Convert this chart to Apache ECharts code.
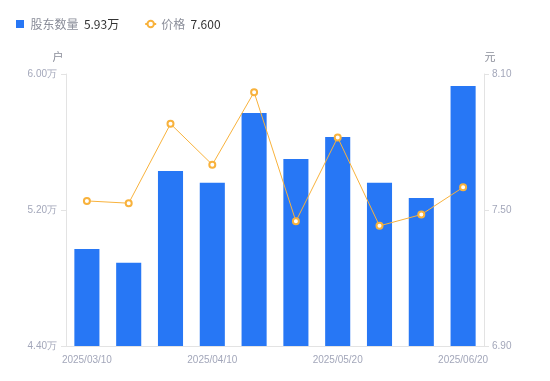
<!DOCTYPE html>
<html>
<head>
<meta charset="utf-8">
<script src="https://cdn.jsdelivr.net/npm/echarts@6/dist/echarts.min.js"></script>
<style>
  html, body { margin: 0; padding: 0; background: #fff; }
  #main { width: 550px; height: 381px; }
</style>
</head>
<body>
<div id="main"></div>
<script>
var dates = ['2025/03/10', '2025/03/20', '2025/03/31', '2025/04/10', '2025/04/18',
             '2025/04/30', '2025/05/20', '2025/05/30', '2025/06/10', '2025/06/20'];
// 股东数量, 单位: 万户
var holders = [4.97, 4.89, 5.43, 5.36, 5.77, 5.50, 5.63, 5.36, 5.27, 5.93];
// 价格, 单位: 元
var prices = [7.54, 7.53, 7.88, 7.70, 8.02, 7.45, 7.82, 7.43, 7.48, 7.60];

var leftTicks = { min: 4.4, max: 6.0, interval: 0.8 };
var rightTicks = { min: 6.9, max: 8.1, interval: 0.6 };

(function () {
    var myChart = echarts.init(document.getElementById('main'));
    var labelColor = '#a3a7ba';
    var lineColor = '#e3e3e3';
    var lastHolders = holders[holders.length - 1];
    var lastPrice = prices[prices.length - 1];

    var option = {
        animation: false,
        textStyle: { fontFamily: 'Noto Sans CJK SC, Noto Sans, sans-serif' },
        legend: {
            left: 16,
            top: 18,
            padding: 0,
            itemWidth: 11,
            itemHeight: 8,
            itemGap: 25,
            formatter: function (name) {
                if (name === '股东数量') {
                    return '{a|' + name + '}  {b|' + lastHolders.toFixed(2) + '万}';
                }
                return '{a|' + name + '}  {b|' + lastPrice.toFixed(3) + '}';
            },
            textStyle: {
                rich: {
                    a: { color: '#8a8d99', fontSize: 12 },
                    b: { color: '#333333', fontSize: 12 }
                }
            },
            data: [
                { name: '股东数量', icon: 'path://M0,0h10v10h-10z' },
                { name: '价格' }
            ]
        },
        grid: {
            left: 66,
            right: 66,
            top: 74,
            bottom: 35
        },
        xAxis: {
            type: 'category',
            data: dates,
            axisLine: { lineStyle: { color: lineColor } },
            axisTick: { show: false },
            axisLabel: {
                interval: 2,
                color: labelColor,
                fontSize: 10,
                margin: 9,
                fontFamily: 'Liberation Sans, Arial, sans-serif'
            }
        },
        yAxis: [
            {
                type: 'value',
                name: '户',
                nameGap: 12,
                nameTextStyle: { color: '#8a8d99', fontSize: 11, padding: [0, 16, 0, 0] },
                min: leftTicks.min,
                max: leftTicks.max,
                interval: leftTicks.interval,
                splitLine: { show: false },
                axisLine: { show: true, lineStyle: { color: lineColor } },
                axisTick: { show: true, length: 5, lineStyle: { color: lineColor } },
                axisLabel: {
                    color: labelColor,
                    fontSize: 10,
                    margin: 9,
                    fontFamily: 'Liberation Sans, Arial, sans-serif',
                    formatter: function (v) { return v.toFixed(2) + '万'; }
                }
            },
            {
                type: 'value',
                name: '元',
                nameGap: 12,
                nameTextStyle: { color: '#8a8d99', fontSize: 11, padding: [0, 0, 0, 12] },
                min: rightTicks.min,
                max: rightTicks.max,
                interval: rightTicks.interval,
                splitLine: { show: false },
                axisLine: { show: true, lineStyle: { color: lineColor } },
                axisTick: { show: true, length: 5, lineStyle: { color: lineColor } },
                axisLabel: {
                    color: labelColor,
                    fontSize: 10,
                    margin: 8,
                    fontFamily: 'Liberation Sans, Arial, sans-serif',
                    formatter: function (v) { return v.toFixed(2); }
                }
            }
        ],
        series: [
            {
                name: '股东数量',
                type: 'bar',
                yAxisIndex: 0,
                barWidth: '60%',
                itemStyle: { color: '#2777f5' },
                data: holders
            },
            {
                name: '价格',
                type: 'line',
                yAxisIndex: 1,
                symbol: 'circle',
                symbolSize: 6,
                showAllSymbol: true,
                itemStyle: { color: '#fff', borderColor: '#f8b23c', borderWidth: 2 },
                lineStyle: { color: '#f8b23c', width: 1 },
                data: prices
            }
        ]
    };

    myChart.setOption(option);
    window.addEventListener('resize', function () {
        myChart.resize();
    });
})();
</script>
</body>
</html>
